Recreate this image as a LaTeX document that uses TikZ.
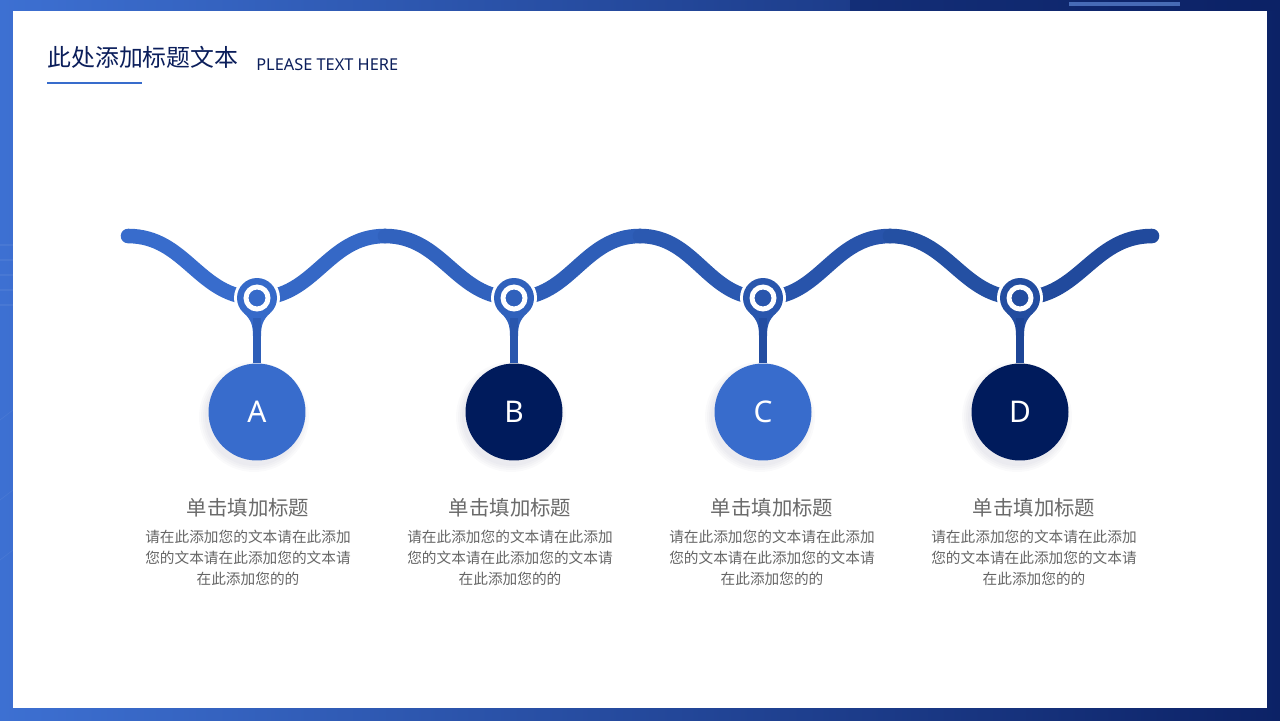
\documentclass[tikz,border=0pt]{standalone}
\usepackage{fontspec}
\setmainfont{Noto Sans CJK SC}
\newfontfamily\latinfont{Noto Sans}
\usetikzlibrary{positioning, calc}

\definecolor{waveleft}{HTML}{386CCC}
\definecolor{waveright}{HTML}{1E4696}
\definecolor{navy}{HTML}{001B5C}
\definecolor{titleblue}{HTML}{0B1E5B}
\definecolor{headgray}{HTML}{6A6A6A}
\definecolor{bodygray}{HTML}{666666}
\definecolor{bgleft}{HTML}{3D70D2}
\definecolor{bgright}{HTML}{0C2266}

\begin{document}
\begin{tikzpicture}[x=0.02cm, y=-0.02cm,
    wave/.style={line width=8.3pt, line cap=round},
    pin/.style={circle, fill=#1, minimum size=0.8cm, inner sep=0pt},
    stem/.style={line width=4.1pt, draw=#1},
    stepcircle/.style={circle, fill=#1, minimum size=1.94cm, inner sep=0pt,
        text=white, font=\latinfont\fontsize{17}{17}\selectfont},
    head/.style={text=headgray, font=\fontsize{11.6}{12}\selectfont},
    body/.style={text=bodygray, align=center, font=\fontsize{8.35}{12}\selectfont}]

    % Frame and background
    \useasboundingbox (0,0) rectangle (1280,720);
    \shade[left color=bgleft, right color=bgright] (0,0) rectangle (1280,720);
    \fill[bgright, opacity=0.5] (850,0) rectangle (1280,11);
    \foreach \y in {245, 260, 275, 290, 305} {
        \draw[white, opacity=0.06, line width=0.6pt] (0,\y) -- (13,\y);
    }
    \draw[white, opacity=0.06] (0,420) -- (13,410) (0,500) -- (13,490) (0,560) -- (13,550);
    \draw[waveleft!80!white, opacity=0.7, line width=2pt] (1069,4) -- (1180,4);
    \fill[white] (13,11) rectangle (1267,708);

    % Title
    \node[anchor=base west, inner sep=0pt, text=titleblue, font=\fontsize{13.6}{14}\selectfont] (title) at (47,66) {此处添加标题文本};
    \node[anchor=base west, inner sep=0pt, text=titleblue, font=\latinfont\fontsize{9.3}{10}\selectfont] (subtitle) at (256,70) {PLEASE TEXT HERE};
    \draw[waveleft, line width=0.6pt] (47,83) -- (142,83);

    % Wave line
    \coordinate (w0) at (128,236);
    \coordinate (w1) at (257,298);
    \coordinate (w2) at (385,236);
    \coordinate (w3) at (514,298);
    \coordinate (w4) at (640,236);
    \coordinate (w5) at (763,298);
    \coordinate (w6) at (890,236);
    \coordinate (w7) at (1020,298);
    \coordinate (w8) at (1152,236);
    \foreach \a/\b/\m in {0/1/0, 1/2/12, 2/3/25, 3/4/37, 4/5/50, 5/6/62, 6/7/75, 7/8/88} {
        \draw[wave, waveright!\m!waveleft]
            (w\a) .. controls ($(w\a)!0.45!(w\b |- w\a)$) and ($(w\b)!0.45!(w\a |- w\b)$) .. (w\b);
    }

    % Pins and step circles
    \foreach \n/\x/\tx/\fillc/\m in {A/257/248/waveleft/6, B/514/510/navy/30, C/763/772/waveleft/58, D/1020/1034/navy/82} {
        % white gap round the pin
        \fill[white] (\x,298) circle[radius=0.46cm];
        % neck
        \fill[waveright!\m!waveleft] (\x-13,313) .. controls (\x-6,320) and (\x-4,325) .. (\x-4,336)
            -- (\x+4,336) .. controls (\x+4,325) and (\x+6,320) .. (\x+13,313) -- cycle;
        \node[pin=waveright!\m!waveleft] (pin\n) at (\x,298) {};
        \draw[white, line width=2.8pt] (pin\n.center) circle[radius=0.22cm];
        % soft shadow
        \foreach \r in {0.98, 1.02, ..., 1.14} {
            \fill[navy, opacity=0.018] (\x-3,417) circle[radius=\r cm];
        }
        \node[stepcircle=\fillc] (circ\n) at (\x,412) {\n};
        \draw[stem=waveright!\m!waveleft!85!navy] (pin\n.south) -- (circ\n.north);
        % texts
        \node[head] (head\n) at (\tx,508) {单击填加标题};
        \node[body, below=0.3pt of head\n] (body\n) {请在此添加您的文本请在此添加\\您的文本请在此添加您的文本请\\在此添加您的的};
    }
\end{tikzpicture}
\end{document}
